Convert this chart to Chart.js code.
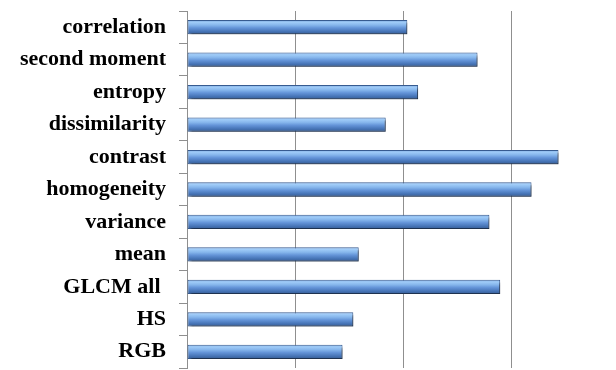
<!DOCTYPE html>
<html>
<head>
<meta charset="utf-8">
<script src="https://cdn.jsdelivr.net/npm/chart.js@4/dist/chart.umd.min.js"></script>
<style>
  html, body { margin: 0; padding: 0; background: #fff; overflow: hidden; width: 616px; height: 370px; }
  #wrap { position: relative; width: 640px; height: 370px; }
</style>
</head>
<body>
<div id="wrap"><canvas id="c" width="640" height="370"></canvas></div>
<script>
const categories = ["correlation", "second moment", "entropy", "dissimilarity", "contrast",
  "homogeneity", "variance", "mean", "GLCM all ", "HS", "RGB"];
const values = [2.04, 2.69, 2.14, 1.84, 3.44, 3.19, 2.80, 1.59, 2.90, 1.54, 1.44];
const xTicks = [0, 1, 2, 3, 4];

const barStyle = {
  id: 'barStyle',
  beforeDatasetsDraw(chart) {
    const ctx = chart.ctx;
    const meta = chart.getDatasetMeta(0);
    meta.data.forEach(el => {
      const top = el.y - el.height / 2, bot = el.y + el.height / 2;
      const g = ctx.createLinearGradient(0, top, 0, bot);
      g.addColorStop(0, '#75a0d9');
      g.addColorStop(0.15, '#a0ccf8');
      g.addColorStop(0.35, '#86b6ec');
      g.addColorStop(0.55, '#6494d8');
      g.addColorStop(0.8, '#4674b6');
      g.addColorStop(1, '#375c93');
      el.options.backgroundColor = g;
    });
    ctx.save();
    ctx.shadowColor = 'rgba(0,0,0,0.45)';
    ctx.shadowBlur = 2;
    ctx.shadowOffsetX = 2;
    ctx.shadowOffsetY = 3;
  },
  afterDatasetsDraw(chart) {
    chart.ctx.restore();
  }
};

new Chart(document.getElementById('c'), {
  type: 'bar',
  data: {
    labels: categories,
    datasets: [{
      data: values,
      backgroundColor: () => '#6d9de0',
      borderColor: '#375b90',
      borderWidth: 1,
      borderSkipped: false,
      barPercentage: 0.44,
      categoryPercentage: 1.0
    }]
  },
  plugins: [barStyle],
  options: {
    indexAxis: 'y',
    responsive: false,
    animation: false,
    events: [],
    layout: { padding: { left: 0, right: 21, top: 11, bottom: 2 } },
    plugins: { legend: { display: false }, tooltip: { enabled: false } },
    scales: {
      x: {
        min: 0, max: 4,
        afterBuildTicks: s => { s.ticks = xTicks.map(v => ({ value: v })); },
        afterFit: s => { s.height = 0; s.paddingLeft = 0; s.paddingRight = 0; },
        ticks: { display: false },
        grid: { color: '#8f8f8f', lineWidth: 1, drawTicks: false },
        border: { display: false }
      },
      y: {
        afterFit: s => { s.width = 187; s.paddingTop = 0; s.paddingBottom = 0; },
        ticks: {
          color: '#000',
          padding: 13,
          font: { family: '"Liberation Serif", "Times New Roman", serif', weight: 'bold', size: 22 }
        },
        grid: { drawOnChartArea: false, drawTicks: true, tickLength: 8, color: '#8f8f8f', offset: true },
        border: { display: true, color: '#8f8f8f', width: 1 }
      }
    }
  }
});
</script>
</body>
</html>
